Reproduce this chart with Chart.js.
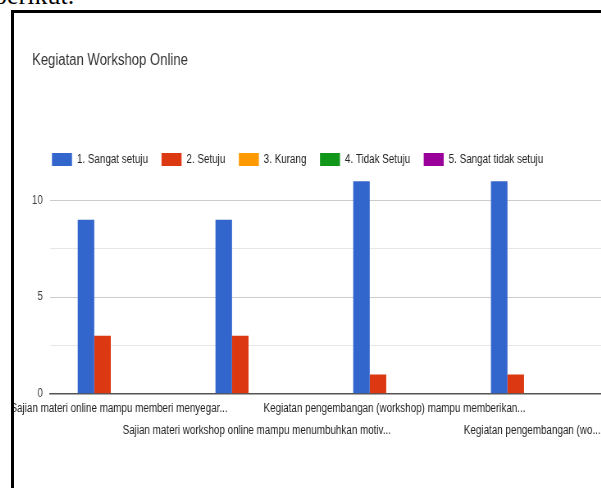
<!DOCTYPE html>
<html>
<head>
<meta charset="utf-8">
<script src="https://cdn.jsdelivr.net/npm/chart.js@4.4.1/dist/chart.umd.min.js"></script>
<style>
  html, body { margin: 0; padding: 0; background: #fff; overflow: hidden; }
  body { width: 601px; height: 488px; position: relative; }
  .above { position: absolute; left: -6px; top: -19px; font: 26px 'Liberation Serif', serif; color: #000; }
  .frame { position: absolute; left: 11px; top: 10px; width: 700px; height: 600px; border: 3px solid #000; }
  /* the source screenshot is squeezed horizontally, so the chart is drawn wider and scaled */
  .wrap { position: absolute; left: 14px; top: 13px; width: 716px; height: 475px; transform: scaleX(0.82); transform-origin: 0 0; }
</style>
</head>
<body>
<div class="above">berikut.</div>
<div class="frame"></div>
<div class="wrap"><canvas id="chartWorkshop"></canvas></div>
<script>
const chartTitle = 'Kegiatan Workshop Online';
const categories = [
  'Sajian materi online mampu memberi menyegar...',
  'Sajian materi workshop online mampu menumbuhkan motiv...',
  'Kegiatan pengembangan (workshop) mampu memberikan...',
  'Kegiatan pengembangan (wo...'
];
const seriesNames = ['1. Sangat setuju', '2. Setuju', '3. Kurang', '4. Tidak Setuju', '5. Sangat tidak setuju'];
const sangatSetuju = [9, 9, 11, 11];
const setuju = [3, 3, 1, 1];
const kurang = [0, 0, 0, 0];
const tidakSetuju = [0, 0, 0, 0];
const sangatTidakSetuju = [0, 0, 0, 0];
const yTicks = [0, 2.5, 5, 7.5, 10];
const yLabels = [0, 5, 10];

const colors = ['#3366cc', '#dc3912', '#ff9900', '#109618', '#990099'];
const fontFamily = "'Liberation Sans', Arial, sans-serif";

// staggered labels like Google charts: even on row 1, odd on row 2
const xLabels = categories.map((c, i) => (i % 2 === 0 ? [c, ''] : ['', c]));

// move title and legend right without shrinking the plot
const shiftBlocks = {
  id: 'shiftBlocks',
  afterLayout(chart) {
    if (chart.titleBlock) chart.titleBlock.left = 22;
    if (chart.legend) chart.legend.left = 29.8;
  }
};

document.addEventListener('DOMContentLoaded', () => {
  const values = [sangatSetuju, setuju, kurang, tidakSetuju, sangatTidakSetuju];
  new Chart(document.getElementById('chartWorkshop').getContext('2d'), {
    type: 'bar',
    data: {
      labels: xLabels,
      datasets: seriesNames.map((name, i) => ({
        label: name,
        data: values[i],
        backgroundColor: colors[i],
        borderWidth: 0,
        barPercentage: 1,
        categoryPercentage: 0.6
      }))
    },
    plugins: [shiftBlocks],
    options: {
      responsive: true,
      maintainAspectRatio: false,
      animation: false,
      layout: { padding: 0 },
      plugins: {
        title: {
          display: true,
          text: chartTitle,
          align: 'start',
          color: '#333',
          font: { family: fontFamily, size: 16, weight: 'normal' },
          padding: { top: 37.5, bottom: 66.8 }
        },
        legend: {
          position: 'top',
          align: 'start',
          labels: {
            boxWidth: 24.4,
            boxHeight: 13,
            padding: 16.5,
            color: '#222',
            font: { family: fontFamily, size: 12 }
          }
        },
        tooltip: { enabled: false }
      },
      scales: {
        x: {
          grid: { display: false, drawTicks: false },
          border: { display: true, color: '#555', width: 1.5 },
          ticks: {
            autoSkip: false,
            maxRotation: 0,
            minRotation: 0,
            padding: 4.2,
            color: '#222',
            font: { family: fontFamily, size: 12, lineHeight: '22px' }
          },
          afterFit: (scale) => {
            scale.height = 94.2;
            scale.paddingLeft = 0;
            scale.paddingRight = 0;
          }
        },
        y: {
          min: 0,
          max: 11.27,
          border: { display: false },
          grid: {
            drawTicks: false,
            color: (ctx) => (ctx.tick && ctx.tick.value % 5 === 0 ? '#cccccc' : '#e6e6e6')
          },
          ticks: {
            padding: 9,
            color: '#444',
            font: { family: fontFamily, size: 12 },
            callback: (val) => (yLabels.includes(val) ? String(val) : '')
          },
          afterBuildTicks: (scale) => {
            scale.ticks = yTicks.map(v => ({ value: v }));
          },
          afterFit: (scale) => {
            scale.width = 44.1;
          }
        }
      }
    }
  });
});
</script>
</body>
</html>
